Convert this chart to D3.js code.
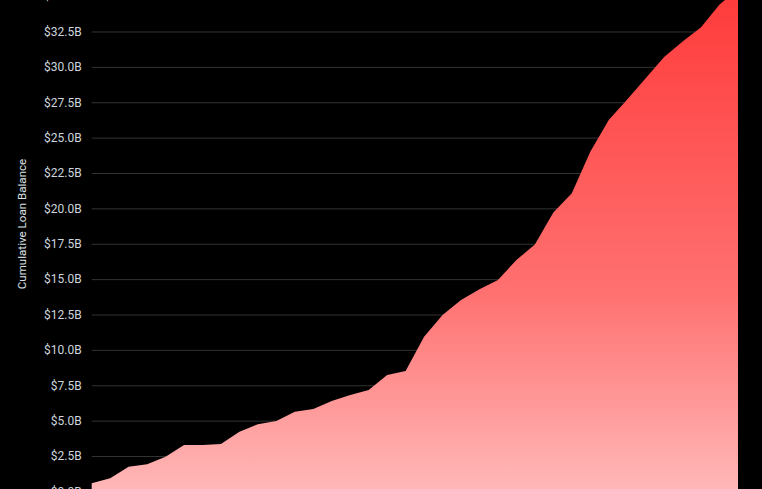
<!DOCTYPE html>
<html>
<head>
<meta charset="utf-8">
<script src="https://cdn.jsdelivr.net/npm/d3@7"></script>
<style>
  html, body { margin: 0; padding: 0; background: #000; overflow: hidden; }
  svg { display: block; }
</style>
</head>
<body>
<svg id="chart" width="762" height="489"></svg>
<script>
// Monthly periods (3 years)
const months = [
  "2021-01","2021-02","2021-03","2021-04","2021-05","2021-06",
  "2021-07","2021-08","2021-09","2021-10","2021-11","2021-12",
  "2022-01","2022-02","2022-03","2022-04","2022-05","2022-06",
  "2022-07","2022-08","2022-09","2022-10","2022-11","2022-12",
  "2023-01","2023-02","2023-03","2023-04","2023-05","2023-06",
  "2023-07","2023-08","2023-09","2023-10","2023-11","2023-12"
];
// Cumulative loan balance, billions of dollars
const balance = [
  0.57, 0.93, 1.75, 1.92, 2.45, 3.28,
  3.28, 3.35, 4.22, 4.74, 4.98, 5.63,
  5.82, 6.39, 6.81, 7.17, 8.23, 8.51,
  10.93, 12.47, 13.53, 14.28, 14.94, 16.35,
  17.45, 19.7, 21.07, 24.0, 26.25, 27.7,
  29.2, 30.7, 31.8, 32.8, 34.4, 35.5
];
const yTicks = [0, 2.5, 5, 7.5, 10, 12.5, 15, 17.5, 20, 22.5, 25, 27.5, 30, 32.5, 35];
const yTitle = "Cumulative Loan Balance";

const svg = d3.select("#chart");
const data = months.map((m, i) => ({ m, v: balance[i] }));

const x = d3.scalePoint().domain(months).range([91.7, 738]);
const y = d3.scaleLinear().domain([0, 35]).range([491.4, -3.9]);

const defs = svg.append("defs");
const grad = defs.append("linearGradient")
  .attr("id", "areaGrad")
  .attr("gradientUnits", "userSpaceOnUse")
  .attr("x1", 0).attr("x2", 0)
  .attr("y1", y(35.5)).attr("y2", y(0));
grad.append("stop").attr("offset", "0%").attr("stop-color", "#ff3a3a");
grad.append("stop").attr("offset", "60%").attr("stop-color", "#ff7070");
grad.append("stop").attr("offset", "100%").attr("stop-color", "#ffb8b8");

// grid lines
const yAxis = d3.axisLeft(y)
  .tickValues(yTicks)
  .tickSize(-(738 - 91.7))
  .tickPadding(10)
  .tickFormat(d => "$" + d3.format(".1f")(d) + "B");

const gy = svg.append("g")
  .attr("transform", "translate(91.7,0)")
  .call(yAxis);
gy.select(".domain").remove();
gy.selectAll(".tick line").attr("stroke", "#333").attr("stroke-width", 1);
gy.selectAll(".tick text")
  .attr("fill", "#cdd5dd")
  .attr("font-family", "Roboto, 'Open Sans', sans-serif")
  .attr("font-size", "12px");

// area
const area = d3.area()
  .x(d => x(d.m))
  .y0(y(0))
  .y1(d => y(d.v));

svg.append("path")
  .datum(data)
  .attr("d", area)
  .attr("fill", "url(#areaGrad)");

// y axis title
svg.append("text")
  .attr("transform", "translate(26,224) rotate(-90)")
  .attr("text-anchor", "middle")
  .attr("fill", "#dde3e8")
  .attr("font-family", "Roboto, 'Open Sans', sans-serif")
  .attr("font-size", "11.6px")
  .text(yTitle);
</script>
</body>
</html>
